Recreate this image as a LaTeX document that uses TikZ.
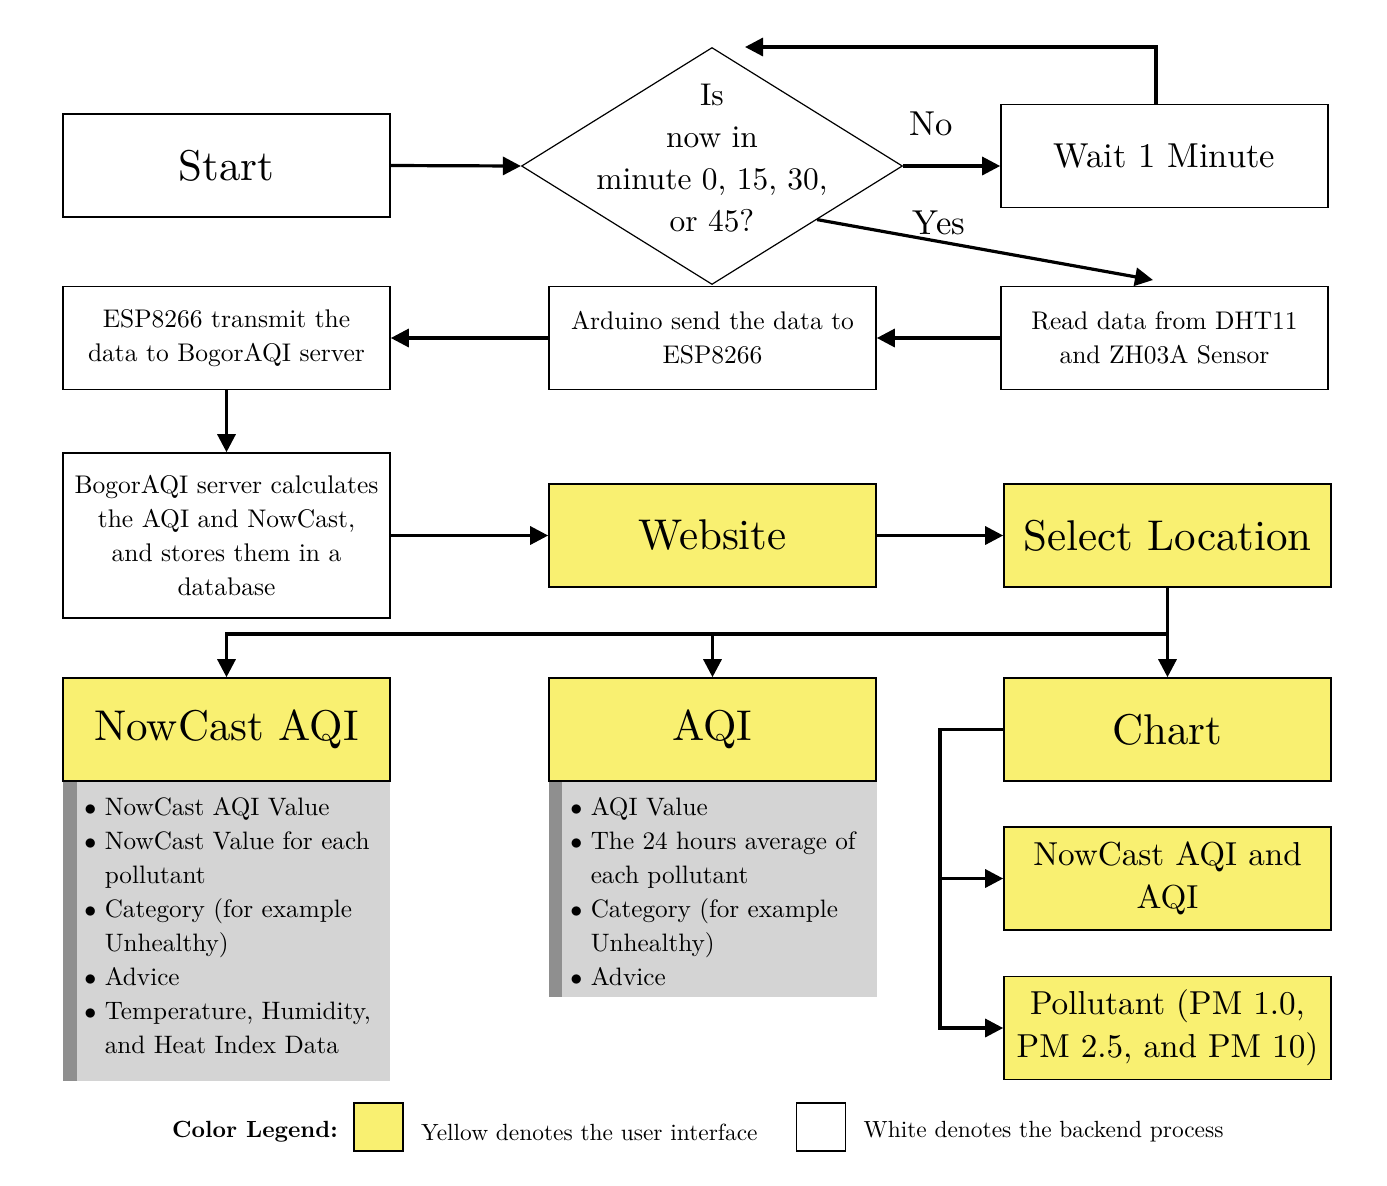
\documentclass[tikz,border=0pt]{standalone}
\usepackage{fontspec}
\setmainfont{lmroman10-regular.otf}[BoldFont=lmroman10-bold.otf, ItalicFont=lmroman10-italic.otf]
\usepackage{tikz}
\usetikzlibrary{calc}
\usetikzlibrary{positioning}
\usetikzlibrary{shapes.geometric}
\usetikzlibrary{arrows.meta}

\definecolor{giallo}{HTML}{F9F071}
\definecolor{grigiochiaro}{HTML}{D4D4D4}
\definecolor{grigioscuro}{HTML}{8F8F8F}

\begin{document}
\begin{tikzpicture}[x = 0.5pt, y = -0.5pt,
  processo/.style = {draw, thick, fill=white, minimum width=163.5pt, minimum height=51.5pt, inner sep=0pt, align=center},
  interfaccia/.style = {processo, fill=giallo},
  decisione/.style = {draw, semithick, shape=diamond, minimum width=190.5pt, minimum height=118.5pt, inner sep=0pt},
  freccia/.style = {-{Triangle[length=9pt, width=9pt]}, line width=1.6pt},
  grande/.style = {font=\fontsize{21.5}{25}\selectfont},
  medio/.style = {font=\fontsize{17.3}{21.5}\selectfont},
  grafici/.style = {font=\fontsize{16.6}{21.4}\selectfont},
  domanda/.style = {font=\fontsize{15.7}{21}\selectfont},
  piccolo/.style = {font=\fontsize{12.75}{17.1}\selectfont},
  elenco/.style = {font=\fontsize{12.6}{17}\selectfont, align=left, anchor=north west, inner sep=0pt},
  legenda/.style = {font=\fontsize{11.7}{14}\selectfont, inner sep=0pt},
  quadrato/.style = {draw, thick, minimum width=24.5pt, minimum height=24pt, inner sep=0pt}]
  \useasboundingbox (0,0) rectangle (1387,1185);

  % Pannelli grigi sotto i riquadri
  \fill[grigiochiaro] (63,781) rectangle (390,1081);
  \fill[grigioscuro] (63,781) rectangle (77,1081);
  \fill[grigiochiaro] (549,781) rectangle (877,997);
  \fill[grigioscuro] (549,781) rectangle (562,997);

  % Prima riga: avvio, domanda e attesa
  \node[processo, grande] (start) at (226.5,165.5) {Start};
  \node[decisione, label={[domanda, align=center, yshift=4pt]center:{Is\\now in\\minute 0, 15, 30,\\or 45?}}] (ora) at (712,166) {};
  \node[processo, medio] (attesa) at (1164.5,156) {Wait 1 Minute};

  % Seconda riga: lettura e invio dei dati
  \node[processo, piccolo] (esp) at (226.5,338) {ESP8266 transmit the\\data to BogorAQI server};
  \node[processo, piccolo] (arduino) at (712.5,338) {Arduino send the data to\\ESP8266};
  \node[processo, piccolo] (lettura) at (1164.5,338) {Read data from DHT11\\and ZH03A Sensor};

  % Terza riga: server e sito
  \node[processo, piccolo, minimum height=82.5pt] (server) at (226.5,535.5) {BogorAQI server calculates\\the AQI and NowCast,\\and stores them in a\\database};
  \node[interfaccia, grande] (sito) at (712.5,535.5) {Website};
  \node[interfaccia, grande] (luogo) at (1167.5,535.5) {Select Location};

  % Quarta riga: pagine del sito
  \node[interfaccia, grande] (nowcast) at (226.5,729.5) {NowCast AQI};
  \node[interfaccia, grande] (aqi) at (712.5,729.5) {AQI};
  \node[interfaccia, grande] (grafico) at (1167.5,729.5) {Chart};
  \node[interfaccia, grafici] (graficoaqi) at (1167.5,878.5) {NowCast AQI and\\AQI};
  \node[interfaccia, grafici] (graficopm) at (1167.5,1028) {Pollutant (PM 1.0,\\PM 2.5, and PM 10)};

  % Elenchi puntati
  \node[elenco] (elenconowcast) at (84,797) {$\bullet$ NowCast AQI Value\\
    $\bullet$ NowCast Value for each\\
    \phantom{$\bullet$ }pollutant\\
    $\bullet$ Category (for example\\
    \phantom{$\bullet$ }Unhealthy)\\
    $\bullet$ Advice\\
    $\bullet$ Temperature, Humidity,\\
    \phantom{$\bullet$ }and Heat Index Data};
  \node[elenco] (elencoaqi) at (570,797) {$\bullet$ AQI Value\\
    $\bullet$ The 24 hours average of\\
    \phantom{$\bullet$ }each pollutant\\
    $\bullet$ Category (for example\\
    \phantom{$\bullet$ }Unhealthy)\\
    $\bullet$ Advice};

  % Frecce della prima riga
  \draw[freccia] (start.east) -- (ora.west);
  \draw[freccia] (ora.east) -- (ora.east -| attesa.west);
  \node[medio] (no) at (931,124) {No};
  \coordinate (ritorno) at (745,47);
  \draw[freccia] ([xshift=-4.25pt]attesa.north) |- (ritorno);
  \coordinate (sidiamo) at ($(ora.east)!0.45!(ora.south)$);
  \coordinate (silettura) at (1153,280);
  \draw[freccia] (sidiamo) -- (silettura);
  \node[medio] (si) at (939,223) {Yes};

  % Frecce della seconda e terza riga
  \draw[freccia] (lettura.west) -- (arduino.east);
  \draw[freccia] (arduino.west) -- (esp.east);
  \draw[freccia] (esp.south) -- (server.north);
  \draw[freccia] (server.east) -- (sito.west);
  \draw[freccia] (sito.east) -- (luogo.west);

  % Diramazione verso le pagine
  \coordinate (ramo) at (1167.5,634);
  \draw[freccia] (luogo.south) -- (grafico.north);
  \draw[freccia] (ramo) -| (nowcast.north);
  \draw[freccia] (ramo -| aqi.north) -- (aqi.north);

  % Diramazione del grafico
  \coordinate (ramografico) at (940,729.5);
  \draw[freccia] (grafico.west) -- (ramografico) |- (graficopm.west);
  \draw[freccia] (ramografico |- graficoaqi.west) -- (graficoaqi.west);

  % Legenda dei colori
  \node[legenda, font=\fontsize{11.7}{14}\selectfont\bfseries] (titolo) at (255,1132) {Color Legend:};
  \node[quadrato, fill=giallo] (qgiallo) at (378.5,1127) {};
  \node[legenda, right=8.5pt of qgiallo, yshift=-2.5pt] (tgiallo) {Yellow denotes the user interface};
  \node[quadrato, fill=white] (qbianco) at (821,1127) {};
  \node[legenda, right=8.5pt of qbianco, yshift=-2.5pt] (tbianco) {White denotes the backend process};
\end{tikzpicture}
\end{document}
